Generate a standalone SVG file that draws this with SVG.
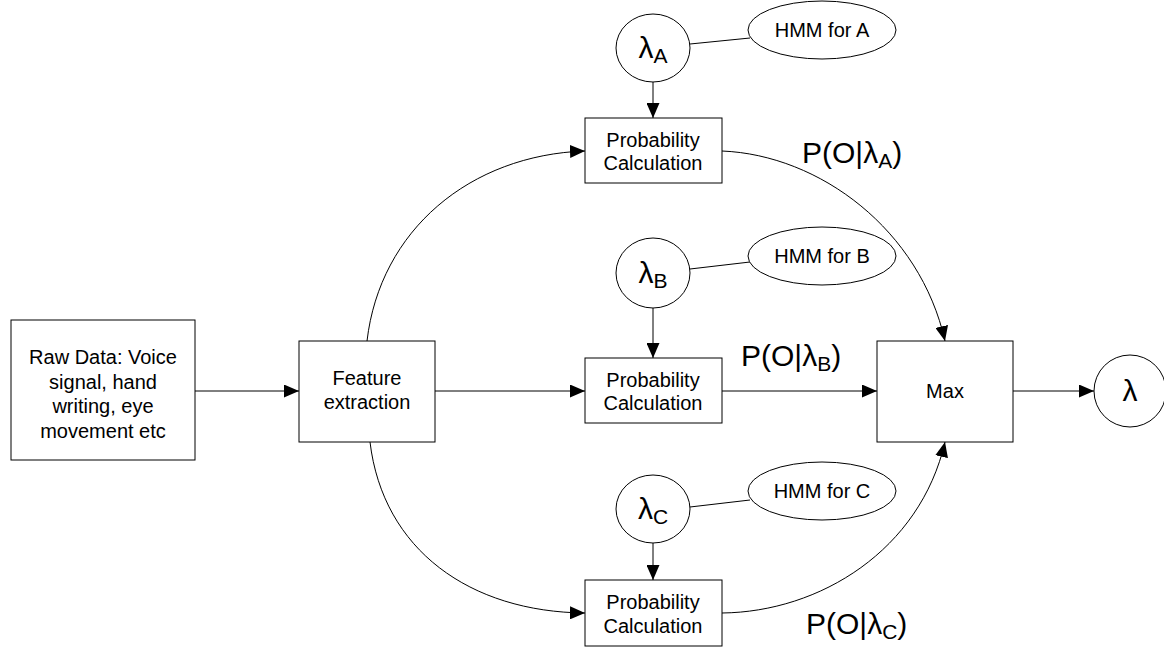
<svg xmlns="http://www.w3.org/2000/svg" width="1164" height="648" viewBox="0 0 1164 648">
<defs>
<marker id="arr" markerWidth="15" markerHeight="13" refX="15" refY="6.5" orient="auto" markerUnits="userSpaceOnUse"><path d="M0,0 L15,6.5 L0,13 Z" fill="#000"/></marker>
<style>
.box{fill:#fff;stroke:#000;stroke-width:1}
.ln{fill:none;stroke:#000;stroke-width:1}
.t{font-family:"Liberation Sans",Arial,sans-serif;font-size:20px;fill:#000;text-anchor:middle}
.p{font-family:"Liberation Sans",Arial,sans-serif;font-size:30px;fill:#000}
.g{font-family:"Liberation Sans",Arial,sans-serif;font-size:30px;fill:#000;text-anchor:middle}
</style>
</defs>
<rect width="1164" height="648" fill="#fff"/>
<g id="connectors">
<path class="ln" d="M195,391 L299,391" marker-end="url(#arr)"/>
<path class="ln" d="M435,391 L585,391" marker-end="url(#arr)"/>
<path class="ln" d="M367,341 C380,230 470,155 585,151" marker-end="url(#arr)"/>
<path class="ln" d="M370,442 C383,550 470,612 585,613" marker-end="url(#arr)"/>
<path class="ln" d="M722,151 C820,155 920,230 945,341" marker-end="url(#arr)"/>
<path class="ln" d="M722,613 C820,612 920,550 945,442" marker-end="url(#arr)"/>
<path class="ln" d="M722,391 L877,391" marker-end="url(#arr)"/>
<path class="ln" d="M1013,391 L1094,391" marker-end="url(#arr)"/>
<path class="ln" d="M653,82 L653,118" marker-end="url(#arr)"/>
<path class="ln" d="M653,308 L653,358" marker-end="url(#arr)"/>
<path class="ln" d="M653,543 L653,580" marker-end="url(#arr)"/>
<path class="ln" d="M690,44 L750,38"/>
<path class="ln" d="M690,269 L750,262"/>
<path class="ln" d="M690,507 L750,500"/>
</g>
<g id="raw"><rect class="box" x="11" y="320" width="184" height="140"/>
<text class="t" x="103" y="364">Raw Data: Voice</text>
<text class="t" x="103" y="389">signal, hand</text>
<text class="t" x="103" y="413">writing, eye</text>
<text class="t" x="103" y="438">movement etc</text></g>
<g id="feature"><rect class="box" x="299" y="341" width="136" height="101"/>
<text class="t" x="367" y="385">Feature</text>
<text class="t" x="367" y="409">extraction</text></g>
<g id="probA"><rect class="box" x="585" y="118" width="137" height="65"/>
<text class="t" x="653" y="147">Probability</text>
<text class="t" x="653" y="170">Calculation</text></g>
<g id="probB"><rect class="box" x="585" y="358" width="137" height="65"/>
<text class="t" x="653" y="387">Probability</text>
<text class="t" x="653" y="410">Calculation</text></g>
<g id="probC"><rect class="box" x="585" y="580" width="137" height="66"/>
<text class="t" x="653" y="609">Probability</text>
<text class="t" x="653" y="633">Calculation</text></g>
<g id="lamA"><ellipse class="box" cx="653" cy="48" rx="37" ry="34"/>
<text class="g" x="653" y="58">λ<tspan font-size="21" dy="5">A</tspan></text></g>
<g id="lamB"><ellipse class="box" cx="653" cy="273" rx="37" ry="35"/>
<text class="g" x="653" y="283">λ<tspan font-size="21" dy="5">B</tspan></text></g>
<g id="lamC"><ellipse class="box" cx="653" cy="509" rx="37" ry="34"/>
<text class="g" x="653" y="519">λ<tspan font-size="21" dy="5">C</tspan></text></g>
<g id="hmmA"><ellipse class="box" cx="822" cy="30" rx="74" ry="29"/>
<text class="t" x="822" y="37">HMM for A</text></g>
<g id="hmmB"><ellipse class="box" cx="822" cy="256" rx="74" ry="29"/>
<text class="t" x="822" y="263">HMM for B</text></g>
<g id="hmmC"><ellipse class="box" cx="822" cy="491" rx="74" ry="29"/>
<text class="t" x="822" y="498">HMM for C</text></g>
<g id="max"><rect class="box" x="877" y="341" width="136" height="101"/>
<text class="t" x="945" y="398">Max</text></g>
<g id="lambda"><circle class="box" cx="1130" cy="391" r="36"/>
<text class="g" x="1130" y="401">λ</text></g>
<g id="labels">
<text class="p" x="802" y="163">P(O|λ<tspan font-size="21" dy="5">A</tspan><tspan dy="-5">)</tspan></text>
<text class="p" x="741" y="366">P(O|λ<tspan font-size="21" dy="5">B</tspan><tspan dy="-5">)</tspan></text>
<text class="p" x="806" y="634">P(O|λ<tspan font-size="21" dy="5">C</tspan><tspan dy="-5">)</tspan></text>
</g>
</svg>
